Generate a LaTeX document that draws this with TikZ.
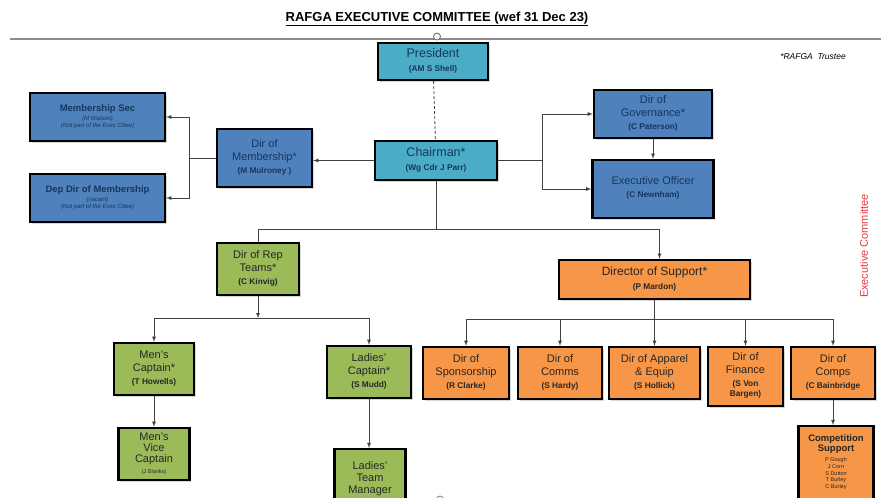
\documentclass[tikz,border=0pt]{standalone}
\usepackage{fontspec}
\setmainfont{Liberation Sans}
\usetikzlibrary{shadows}
\definecolor{tealfill}{HTML}{4BACC6}
\definecolor{bluefill}{HTML}{4F81BD}
\definecolor{greenfill}{HTML}{9BBB59}
\definecolor{orangefill}{HTML}{F79646}
\definecolor{navytext}{HTML}{17365D}
\definecolor{redtext}{HTML}{E8383D}
% small stacked lines under a box title
\newcommand{\who}[1]{{\bfseries\fontsize{8.3}{10}\selectfont\begin{tabular}[t]{@{}c@{}}#1\end{tabular}}}
\newcommand{\smallnote}[1]{{\mdseries\itshape\fontsize{6}{7}\selectfont\begin{tabular}[t]{@{}c@{}}#1\end{tabular}}}
\newcommand{\crew}[1]{{\mdseries\fontsize{5.5}{6.8}\selectfont\begin{tabular}[t]{@{}c@{}}#1\end{tabular}}}

\begin{document}
\begin{tikzpicture}[
        x=1pt, y=-1pt, % pixel coordinates, y runs downwards
        cell/.style={draw=black, line width=2.4pt, align=center, inner sep=1pt,
            font=\fontsize{11}{13}\selectfont,
            drop shadow={shadow xshift=1.5pt, shadow yshift=-1.5pt, fill=black!30}}, % box
        tealcell/.style={cell, fill=tealfill, text=navytext, font=\fontsize{12.5}{14}\selectfont},
        bluecell/.style={cell, fill=bluefill, text=navytext},
        greencell/.style={cell, fill=greenfill, text=black!85},
        orangecell/.style={cell, fill=orangefill, text=black!85},
        link/.style={draw=black!75, line width=0.8pt}, % connector
        arr/.style={link, -latex},
    ]
    \useasboundingbox[fill=white] (0,0) rectangle (881,498);

    % heading
    \node[font=\bfseries\fontsize{13}{15}\selectfont] (title) at (437,19)
        {\underline{RAFGA EXECUTIVE COMMITTEE (wef 31 Dec 23)}};
    \draw[black!45, line width=1.2pt] (10,39) -- (881,39);
    \draw[black!60, line width=0.8pt, fill=white] (437,36.5) circle (3.5pt);
    \node[font=\itshape\fontsize{8.5}{10}\selectfont] (trustee) at (813,57) {*RAFGA\ \ Trustee};
    \node[rotate=90, text=redtext, font=\fontsize{11}{13}\selectfont] (excom) at (864,246)
        {Executive Committee};

    % top of the tree
    \node[tealcell, minimum width=110pt, minimum height=37pt] (pres) at (433,61.5)
        {President\\ \who{(AM S Shell)}};
    \node[tealcell, minimum width=122pt, minimum height=39pt] (chair) at (436,160.5)
        {Chairman*\\ \who{(Wg Cdr J Parr)}};

    % membership
    \node[bluecell, minimum width=95pt, minimum height=58pt] (dirmem) at (264.5,158)
        {Dir of\\ Membership*\\ \who{(M Mulroney )}};
    \node[bluecell, minimum width=135pt, minimum height=48pt, font=\bfseries\fontsize{9.5}{9.5}\selectfont] (memsec) at (97.5,117)
        {Membership Sec\\ \smallnote{(M Watson)\\ (Not part of the Exec Cttee)}};
    \node[bluecell, minimum width=135pt, minimum height=48pt, font=\bfseries\fontsize{9.5}{9.5}\selectfont] (depdir) at (97.5,198)
        {Dep Dir of Membership\\ \smallnote{(vacant)\\ (Not part of the Exec Cttee)}};

    % governance
    \node[bluecell, minimum width=118pt, minimum height=48pt] (gov) at (653,114)
        {Dir of\\ Governance*\\ \who{(C Paterson)}};
    \node[bluecell, minimum width=121pt, minimum height=58pt] (exec) at (653,189)
        {Executive Officer\\ \who{(C Newnham)}};

    % rep teams
    \node[greencell, minimum width=82pt, minimum height=52pt] (rep) at (258,269)
        {Dir of Rep\\ Teams*\\ \who{(C Kinvig)}};
    \node[greencell, minimum width=80pt, minimum height=52pt] (menc) at (154,369)
        {Men’s\\ Captain*\\ \who{(T Howells)}};
    \node[greencell, minimum width=71pt, minimum height=52pt, font=\fontsize{11}{11}\selectfont] (vice) at (154,454)
        {Men’s\\ Vice\\ Captain\\ \crew{(J Blanks)}};
    \node[greencell, minimum width=84pt, minimum height=52pt] (ladc) at (369,372)
        {Ladies’\\ Captain*\\ \who{(S Mudd)}};
    \node[greencell, minimum width=71pt, minimum height=58pt, anchor=north, font=\fontsize{11}{12}\selectfont] (ladm) at (370,448)
        {Ladies’\\ Team\\ Manager};

    % support
    \node[orangecell, minimum width=191pt, minimum height=39pt, font=\fontsize{12}{13.5}\selectfont] (sup) at (654.5,279.5)
        {Director of Support*\\ \who{(P Mardon)}};
    \node[orangecell, minimum width=86pt, minimum height=52pt] (spon) at (466,373)
        {Dir of\\ Sponsorship\\ \who{(R Clarke)}};
    \node[orangecell, minimum width=84pt, minimum height=52pt] (comms) at (560,373)
        {Dir of\\ Comms\\ \who{(S Hardy)}};
    \node[orangecell, minimum width=91pt, minimum height=52pt] (app) at (654.5,373)
        {Dir of Apparel\\ \& Equip\\ \who{(S Hollick)}};
    \node[orangecell, minimum width=75pt, minimum height=59pt] (fin) at (745.5,376.5)
        {Dir of\\ Finance\\ \who{(S Von\\ Bargen)}};
    \node[orangecell, minimum width=84pt, minimum height=52pt] (comps) at (833,373)
        {Dir of\\ Comps\\ \who{(C Bainbridge}};
    \node[orangecell, minimum width=75pt, minimum height=82pt, anchor=north, font=\bfseries\fontsize{9.5}{10}\selectfont] (compsup) at (836,425)
        {Competition\\ Support\\ \crew{P Gough\\ J Corn\\ S Dutton\\ T Burley\\ C Burley}\\[8pt]};

    % connectors
    \draw[link, densely dashed] (pres) -- (chair);
    \draw[arr] (chair.west) -- (chair.west -| dirmem.east);
    \draw[link] (dirmem.west) -- ++(-26,0) coordinate (memfork);
    \draw[arr] (memfork) |- (memsec.east);
    \draw[arr] (memfork) |- (depdir.east);
    \draw[link] (chair.east) -- ++(44,0) coordinate (govfork);
    \draw[arr] (govfork) |- (gov.west);
    \draw[arr] (govfork) |- (exec.west);
    \draw[arr] (gov.south) -- (gov.south |- exec.north);
    \draw[link] (chair.south) -- ++(0,48) coordinate (chairbus);
    \draw[link] (chairbus) -| (rep.north);
    \draw[arr] (chairbus) -| ([xshift=5pt]sup.north);
    \draw[arr] (rep.south) -- ++(0,22) coordinate (repbus);
    \draw[arr] (repbus) -| (menc.north);
    \draw[arr] (repbus) -| (ladc.north);
    \draw[arr] (menc.south) -- (menc.south |- vice.north);
    \draw[arr] (ladc.south) -- (ladc.south |- ladm.north);
    \path (sup.south) ++(0,19) coordinate (supbus);
    \draw[link] (supbus -| spon.north) -- (supbus -| comps.north);
    \draw[arr] (sup.south) -- (sup.south |- app.north);
    \foreach \n in {spon, comms, fin, comps}
        \draw[arr] (supbus -| \n.north) -- (\n.north);
    \draw[arr] (comps.south) -- (comps.south |- compsup.north);
    \draw[black!50, line width=0.8pt, fill=white] (440,500) circle (4pt);
\end{tikzpicture}
\end{document}
